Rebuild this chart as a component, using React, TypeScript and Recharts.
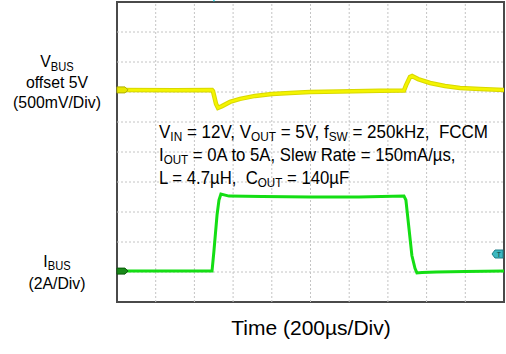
import { ComposedChart, Line, XAxis, YAxis, ReferenceLine, ReferenceArea, ReferenceDot } from "recharts";

// time in µs (200µs/div, 10 div), vertical position in screen divisions (0..10)
const vbusTime = [0, 300, 491, 496, 512, 522, 543, 584, 636, 713, 801, 894, 997, 1152, 1359, 1483, 1494, 1514, 1525, 1556, 1618, 1695, 1773, 1876, 2000];
const vbusDiv = [7.07, 7.06, 7.07, 7.03, 6.6, 6.47, 6.53, 6.67, 6.77, 6.87, 6.93, 6.97, 7.0, 7.02, 7.04, 7.05, 7.23, 7.5, 7.53, 7.43, 7.3, 7.2, 7.13, 7.1, 7.07];

const ibusTime = [0, 250, 491, 501, 517, 527, 537, 579, 750, 1000, 1250, 1483, 1493, 1524, 1540, 1550, 1576, 1650, 1800, 2000];
const ibusDiv = [1.03, 1.03, 1.03, 1.7, 2.9, 3.4, 3.6, 3.53, 3.52, 3.5, 3.5, 3.53, 3.4, 1.55, 1.12, 0.97, 0.98, 1.0, 1.02, 1.03];

const xGrid = [200, 400, 600, 800, 1000, 1200, 1400, 1600, 1800];
const yGrid = [1, 2, 3, 4, 5, 6, 7, 8, 9];

const triggerTime = 501;
const triggerLevel = 1.6;

const data = [
  ...vbusTime.map((t, i) => ({ t, vbus: vbusDiv[i] })),
  ...ibusTime.map((t, i) => ({ t, ibus: ibusDiv[i] })),
].sort((a, b) => a.t - b.t);

const FONT = "'Liberation Sans', Arial, sans-serif";
const NB = "\u00a0";

function TrigTop(p: any) {
  const { cx, cy } = p;
  return <polygon points={`${cx - 4},${cy - 8} ${cx + 4},${cy - 8} ${cx},${cy}`} fill="#22d8e8" />;
}

function ChanTag(p: any) {
  const { cx, cy, color, edge } = p;
  return (
    <polygon
      points={`${cx},${cy - 3} ${cx + 8},${cy - 3} ${cx + 11},${cy} ${cx + 8},${cy + 3} ${cx},${cy + 3}`}
      fill={color}
      stroke={edge}
      strokeWidth={1}
    />
  );
}

function TrigRight(p: any) {
  const { cx, cy } = p;
  return (
    <g>
      <polygon
        points={`${cx - 1},${cy - 4} ${cx - 9},${cy - 4} ${cx - 12},${cy} ${cx - 9},${cy + 4} ${cx - 1},${cy + 4}`}
        fill="#3cb8c0"
        stroke="#1e7f88"
      />
      <text x={cx - 5} y={cy + 3} fontSize={7} textAnchor="middle" fill="#0c3c40" fontFamily={FONT}>
        T
      </text>
    </g>
  );
}

// narrow text like the scope capture's font
function T({ x, y, sx = 0.93, size = 18, anchor = "start", children }: any) {
  return (
    <g transform={`translate(${x},${y}) scale(${sx},1)`}>
      <text x={0} y={0} fontSize={size} textAnchor={anchor}>
        {children}
      </text>
    </g>
  );
}

export default function App() {
  return (
    <div style={{ position: "relative", width: 506, height: 354, background: "#fff" }}>
      <style>{"body{margin:0}"}</style>
      <ComposedChart width={506} height={354} data={data} margin={{ top: 2, right: 2, bottom: 52, left: 117 }}>
        <XAxis dataKey="t" type="number" domain={[0, 2000]} hide />
        <YAxis type="number" domain={[0, 10]} hide />
        {xGrid.map((x) => (
          <ReferenceLine key={"x" + x} x={x} stroke="#c4c4c4" strokeDasharray="2 2" />
        ))}
        {yGrid.map((y) => (
          <ReferenceLine key={"y" + y} y={y} stroke="#c4c4c4" strokeDasharray="2 2" />
        ))}
        <Line
          dataKey="vbus"
          type="linear"
          stroke="#d8d800"
          strokeWidth={4.5}
          dot={false}
          connectNulls
          isAnimationActive={false}
        />
        <Line
          dataKey="vbus"
          type="linear"
          stroke="#f4f400"
          strokeWidth={2.5}
          dot={false}
          connectNulls
          isAnimationActive={false}
        />
        <Line
          dataKey="ibus"
          type="linear"
          stroke="#14de14"
          strokeWidth={3}
          dot={false}
          connectNulls
          isAnimationActive={false}
        />
        <ReferenceArea x1={0} x2={2000} y1={0} y2={10} fill="none" stroke="#4a4a4a" strokeWidth={2} />
        <ReferenceDot x={triggerTime} y={10} r={0} shape={<TrigTop />} />
        <ReferenceDot x={0} y={vbusDiv[0]} r={0} shape={<ChanTag color="#e8e800" edge="#b0b000" />} />
        <ReferenceDot x={0} y={ibusDiv[0]} r={0} shape={<ChanTag color="#1a8a1a" edge="#0a5a0a" />} />
        <ReferenceDot x={2000} y={triggerLevel} r={0} shape={<TrigRight />} />
      </ComposedChart>
      <svg
        width={506}
        height={354}
        style={{ position: "absolute", left: 0, top: 0, pointerEvents: "none" }}
        fontFamily={FONT}
        fill="#000"
      >
        <T x={57} y={67} size={17} anchor="middle">
          V<tspan fontSize={12} dy={4}>BUS</tspan>
        </T>
        <T x={57} y={88} size={17} anchor="middle">offset 5V</T>
        <T x={57} y={108} size={17} anchor="middle">(500mV/Div)</T>
        <T x={57} y={267} size={17} anchor="middle">
          I<tspan fontSize={12} dy={3}>BUS</tspan>
        </T>
        <T x={57} y={289} size={17} anchor="middle">(2A/Div)</T>

        <T x={159} y={138} sx={0.945}>
          V<tspan fontSize={12.5} dy={3}>IN</tspan>
          <tspan dy={-3}> = 12V, V</tspan>
          <tspan fontSize={12.5} dy={3}>OUT</tspan>
          <tspan dy={-3}> = 5V, f</tspan>
          <tspan fontSize={12.5} dy={3}>SW</tspan>
          <tspan dy={-3}>{" = 250kHz, " + NB + "FCCM"}</tspan>
        </T>
        <T x={159} y={161}>
          I<tspan fontSize={12.5} dy={3}>OUT</tspan>
          <tspan dy={-3}>{" = 0A to 5A, Slew Rate = 150mA/µs,"}</tspan>
        </T>
        <T x={159} y={184}>
          {"L = 4.7µH, " + NB + "C"}<tspan fontSize={12.5} dy={3}>OUT</tspan>
          <tspan dy={-3}> = 140µF</tspan>
        </T>

        <text x={311} y={335} fontSize={21} textAnchor="middle">Time (200µs/Div)</text>
      </svg>
    </div>
  );
}
